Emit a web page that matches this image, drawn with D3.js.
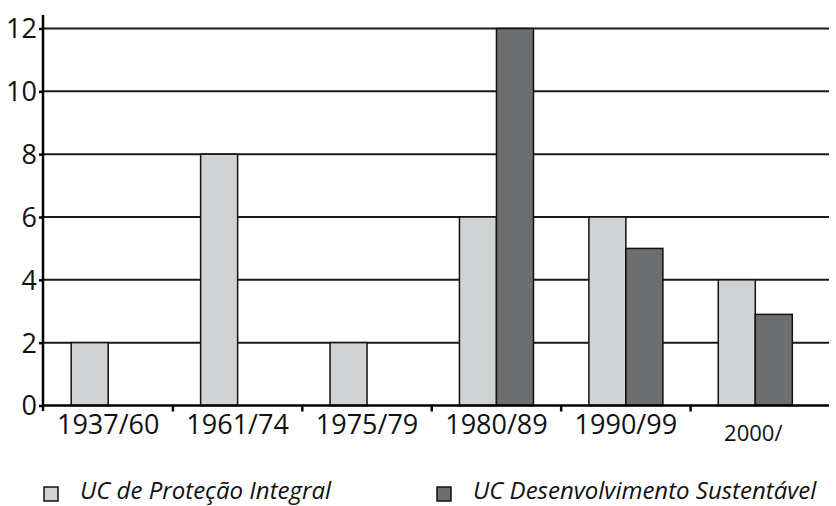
<!DOCTYPE html>
<html><head><meta charset="utf-8">
<script src="https://cdn.jsdelivr.net/npm/d3@7"></script>
<style>body{margin:0;background:#fff}svg{display:block}</style>
</head><body>
<svg id="c" width="836" height="506"></svg>
<script>
const categories = ["1937/60","1961/74","1975/79","1980/89","1990/99","2000/"];
const protecaoIntegral = [2, 8, 2, 6, 6, 4];
const desenvolvimentoSustentavel = [0, 0, 0, 12, 5, 2.9];
const yTicks = [0,2,4,6,8,10,12];
const seriesNames = ["UC de Proteção Integral","UC Desenvolvimento Sustentável"];
const seriesColors = ["#d1d2d4","#6d6e70"];

const svg = d3.select("#c");
const x = d3.scaleBand().domain(categories).range([43.5, 820]).padding(0);
const y = d3.scaleLinear().domain([0,12]).range([405.5, 28.5]);
const barW = x.bandwidth()*0.286;
const font = "'Open Sans', sans-serif";

// gridlines
svg.append("g").selectAll("line").data(yTicks.filter(d=>d>0)).join("line")
  .attr("x1",43).attr("x2",829).attr("y1",d=>y(d)).attr("y2",d=>y(d))
  .attr("stroke","#1a1a1a").attr("stroke-width",2);

// bars
const series = [protecaoIntegral, desenvolvimentoSustentavel];
series.forEach((vals,si)=>{
  svg.append("g").selectAll("rect").data(categories.map((c,i)=>({c,v:vals[i]})).filter(d=>d.v>0)).join("rect")
    .attr("x",d=>x(d.c)+x.bandwidth()/2 + (si===0?-barW:0))
    .attr("width",barW)
    .attr("y",d=>y(d.v)).attr("height",d=>y(0)-y(d.v))
    .attr("fill",seriesColors[si]).attr("stroke","#111").attr("stroke-width",1.5);
});

// y axis
const ya = svg.append("g").attr("transform","translate(43,0)")
  .call(d3.axisLeft(y).tickValues(yTicks).tickSize(4).tickPadding(2).tickFormat(d3.format("d")));
ya.select(".domain").remove();
ya.selectAll("line").attr("stroke","#000").attr("stroke-width",2.5);
ya.selectAll("text").attr("font-family",font).attr("font-size",27).attr("fill","#111").attr("dy","0.35em");
svg.append("line").attr("x1",43).attr("x2",43).attr("y1",15).attr("y2",411)
  .attr("stroke","#000").attr("stroke-width",2.5);

// x axis
svg.append("line").attr("x1",43).attr("x2",829).attr("y1",y(0)).attr("y2",y(0))
  .attr("stroke","#000").attr("stroke-width",2.5);
svg.append("g").selectAll("line").data(categories.slice(1)).join("line")
  .attr("x1",d=>x(d)).attr("x2",d=>x(d)).attr("y1",y(0)).attr("y2",y(0)+6)
  .attr("stroke","#000").attr("stroke-width",2.5);
svg.append("g").selectAll("text").data(categories).join("text")
  .attr("x",d=>x(d)+x.bandwidth()/2 - (d==="2000/"?2:0))
  .attr("y",d=>d==="2000/"?441:434)
  .attr("text-anchor","middle").attr("font-family",font)
  .attr("font-size",d=>d==="2000/"?22:27).attr("fill","#111").text(d=>d);

// legend
const legX = [44, 437];
const lg = svg.append("g").selectAll("g").data(seriesNames).join("g")
  .attr("transform",(d,i)=>`translate(${legX[i]},487)`);
lg.append("rect").attr("width",14).attr("height",14)
  .attr("fill",(d,i)=>seriesColors[i]).attr("stroke","#111").attr("stroke-width",1.5);
lg.append("text").attr("x",36).attr("y",12).attr("font-family",font).attr("font-style","italic")
  .attr("font-size",24).attr("fill","#111").text(d=>d);
</script>
</body></html>
